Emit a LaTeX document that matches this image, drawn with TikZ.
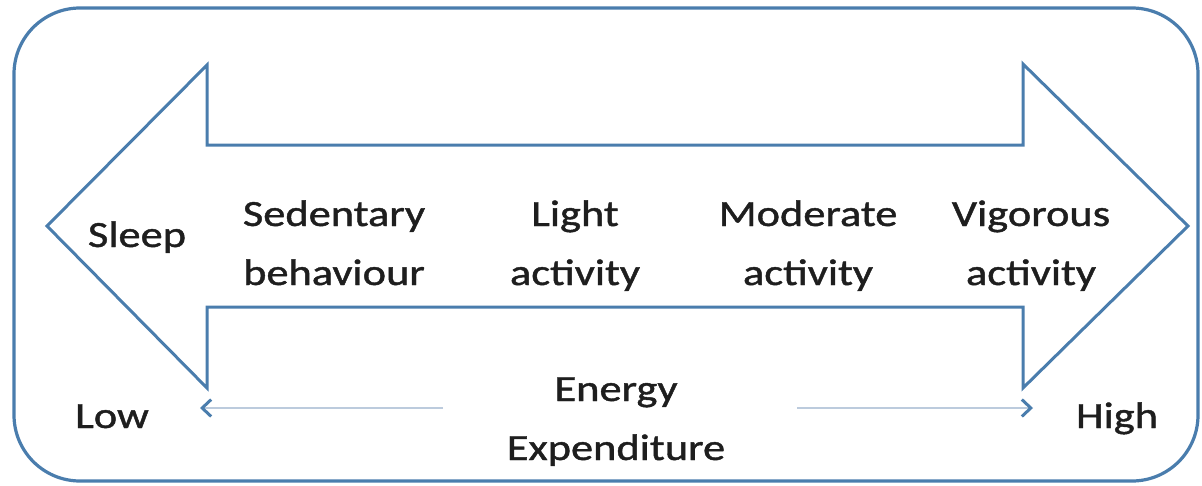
\documentclass[tikz,border=0pt]{standalone}
\usepackage{fontspec}
\setmainfont{Carlito}[FakeStretch=1.2, FakeBold=1.2]
\usetikzlibrary{arrows.meta}
\definecolor{frameblue}{HTML}{4A7DAD}
\definecolor{scaleline}{HTML}{BCCBDD}
\definecolor{inktext}{HTML}{1E1E1E}
\tikzset{
  frame/.style={draw=frameblue, line width=3.2pt, rounded corners=66pt},
  bigarrow/.style={draw=frameblue, line width=3pt, line join=miter},
  label/.style={inner sep=0pt, text=inktext, font=\fontsize{37}{59}\selectfont, align=center},
  scalearrow/.style={draw=scaleline, line width=2.6pt,
    -{Straight Barb[color=frameblue, length=9pt, width=17pt, line width=3pt]}}
}
\begin{document}
\begin{tikzpicture}[x=1pt, y=-1pt]
  \useasboundingbox (0,0) rectangle (1202,485);
  % outer rounded frame
  \draw[frame] (14,8) rectangle (1198,481);
  % double-headed activity arrow
  \draw[bigarrow] (47,226) -- (207,65) -- (207,145) -- (1023,145) -- (1023,64)
    -- (1188,226) -- (1023,388) -- (1023,307) -- (207,307) -- (207,388) -- cycle;
  % activity categories (base anchor = baseline of the last line)
  \node[label, anchor=base] (sleep) at (137,247) {Sleep};
  \node[label, anchor=base] (sed) at (334,285) {Sedentary\\behaviour};
  \node[label, anchor=base] (light) at (575,285) {Light\\activity};
  \node[label, anchor=base] (mod) at (808,285) {Moderate\\activity};
  \node[label, anchor=base] (vig) at (1031,285) {Vigorous\\activity};
  % energy expenditure scale
  \node[label, anchor=base] (low) at (112,428) {Low};
  \node[label, anchor=base] (high) at (1117,428) {High};
  \node[label, anchor=base] (ee) at (616,460) {Energy\\Expenditure};
  \coordinate (lowstart) at (443,408);
  \coordinate (lowend) at (200,408);
  \coordinate (highstart) at (797,408);
  \coordinate (highend) at (1033,408);
  \draw[scalearrow] (lowstart) -- (lowend);
  \draw[scalearrow] (highstart) -- (highend);
\end{tikzpicture}
\end{document}
